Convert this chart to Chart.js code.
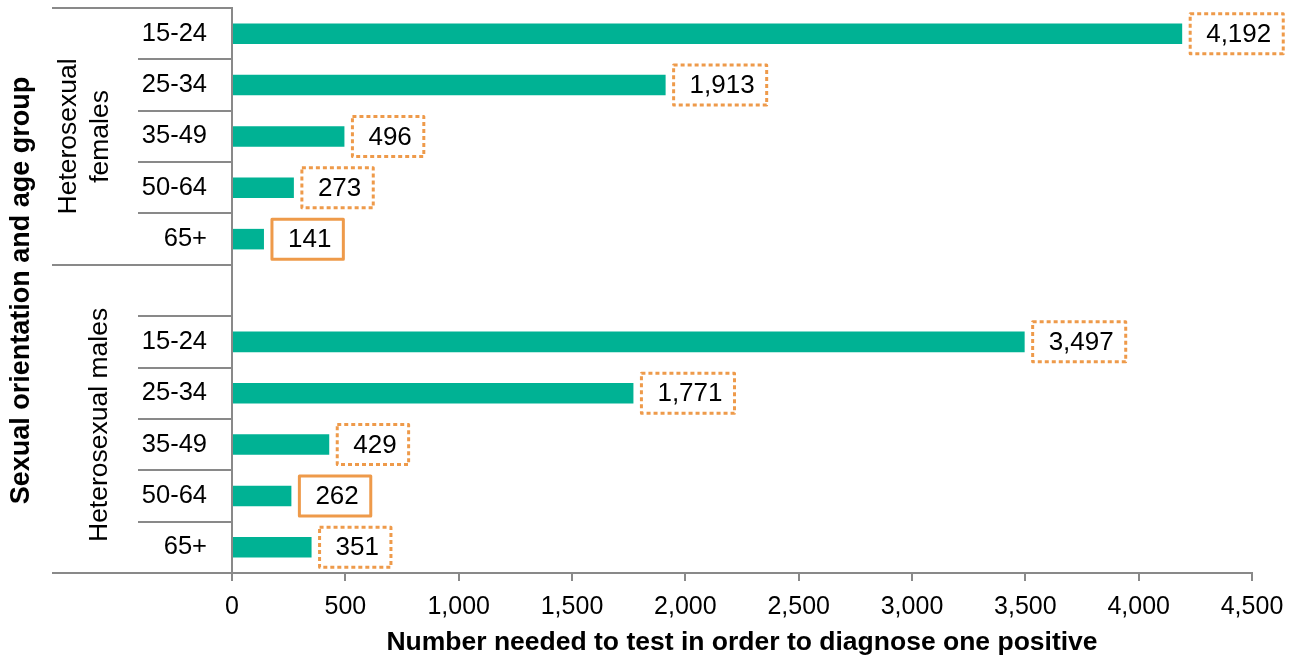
<!DOCTYPE html>
<html>
<head>
<meta charset="utf-8">
<script src="https://cdn.jsdelivr.net/npm/chart.js@4/dist/chart.umd.min.js"></script>
<style>
  html, body { margin: 0; padding: 0; background: #fff; }
  #wrap { width: 1298px; height: 661px; position: relative; }
</style>
</head>
<body>
<div id="wrap"><canvas id="chart"></canvas></div>
<script>
// ── Data ─────────────────────────────────────────────
const ageGroups = ['15-24', '25-34', '35-49', '50-64', '65+'];
const groupNames = [['Heterosexual', 'females'], ['Heterosexual males']];
const femaleValues = [4192, 1913, 496, 273, 141];
const maleValues = [3497, 1771, 429, 262, 351];
// boxes drawn with a solid outline (rest are dotted)
const solidLabels = [141, 262];
const xTicks = [0, 500, 1000, 1500, 2000, 2500, 3000, 3500, 4000, 4500];

const labels = [...ageGroups, '', ...ageGroups];
const values = [...femaleValues, null, ...maleValues];

const FONT = '"Liberation Sans", Arial, sans-serif';
const GREY = '#898989';
const TEAL = '#00B294';
const ORANGE = '#EE9A4A';

// ── Row separators, group labels, value boxes ─────────
const decorPlugin = {
  id: 'decor',
  afterDraw(chart) {
    const { ctx, chartArea, scales: { y } } = chart;
    const half = (y.getPixelForValue(1) - y.getPixelForValue(0)) / 2;
    const edge = i => y.getPixelForValue(i) - half;

    ctx.save();
    ctx.strokeStyle = GREY;
    ctx.lineWidth = 2;
    for (let i = 0; i <= labels.length; i++) {
      const yy = Math.round(edge(i));
      const x0 = (i === 0 || i === 5 || i === labels.length) ? 52 : 138;
      ctx.beginPath();
      ctx.moveTo(x0, yy);
      ctx.lineTo(chartArea.left, yy);
      ctx.stroke();
    }

    // group labels (rotated)
    ctx.fillStyle = '#000';
    ctx.font = '26.5px ' + FONT;
    ctx.textAlign = 'center';
    ctx.textBaseline = 'middle';
    const groups = [
      { lines: groupNames[0], x: 85, yc: (edge(0) + edge(5)) / 2 },
      { lines: groupNames[1], x: 100, yc: (edge(5) + edge(11)) / 2 + 6 },
    ];
    groups.forEach(g => {
      ctx.save();
      ctx.translate(g.x, g.yc);
      ctx.rotate(-Math.PI / 2);
      const lh = 32;
      g.lines.forEach((t, k) => {
        ctx.fillText(t, 0, (k - (g.lines.length - 1) / 2) * lh);
      });
      ctx.restore();
    });

    // value boxes
    ctx.font = '26px ' + FONT;
    const meta = chart.getDatasetMeta(0);
    meta.data.forEach((bar, i) => {
      const v = values[i];
      if (v == null) return;
      const text = v.toLocaleString('en-US');
      const tw = ctx.measureText(text).width;
      const w = tw + 28;
      const h = 40;
      const bx = bar.x + 8;
      const by = bar.y - h / 2;
      ctx.save();
      ctx.strokeStyle = ORANGE;
      ctx.lineWidth = 3;
      ctx.lineJoin = 'round';
      if (solidLabels.includes(v)) {
        ctx.setLineDash([]);
      } else {
        ctx.setLineDash([4, 3]);
      }
      ctx.strokeRect(bx, by, w, h);
      ctx.restore();
      ctx.fillStyle = '#000';
      ctx.textAlign = 'center';
      ctx.fillText(text, bx + w / 2 + 2, bar.y + 1);
    });
    ctx.restore();
  }
};

new Chart(document.getElementById('chart'), {
  type: 'bar',
  data: {
    labels,
    datasets: [{
      data: values,
      backgroundColor: TEAL,
      borderWidth: 0,
      categoryPercentage: 1,
      barPercentage: 0.4,
    }],
  },
  options: {
    indexAxis: 'y',
    responsive: true,
    maintainAspectRatio: false,
    animation: false,
    layout: { padding: { top: 8, right: 46, left: 0, bottom: 0 } },
    plugins: { legend: { display: false }, tooltip: { enabled: false } },
    scales: {
      x: {
        min: 0,
        max: 4500,
        afterBuildTicks: s => { s.ticks = xTicks.map(v => ({ value: v })); },
        afterFit: s => { s.height = 88; s.paddingLeft = 0; s.paddingRight = 0; },
        grid: { drawOnChartArea: false, drawTicks: true, tickLength: 8, color: GREY, lineWidth: 2 },
        border: { display: true, color: GREY, width: 2 },
        ticks: {
          color: '#000',
          font: { family: FONT, size: 25 },
          padding: 11,
          maxRotation: 0,
          callback: v => Number(v).toLocaleString('en-US'),
        },
        title: {
          display: true,
          text: 'Number needed to test in order to diagnose one positive',
          color: '#000',
          font: { family: FONT, size: 26.5, weight: 'bold' },
          padding: { top: 0, bottom: 2 },
        },
      },
      y: {
        afterFit: s => { s.width = 232; s.paddingTop = 0; s.paddingBottom = 0; },
        grid: { display: false, drawTicks: false },
        border: { display: true, color: GREY, width: 2 },
        ticks: {
          color: '#000',
          font: { family: FONT, size: 25.5 },
          padding: 25,
          autoSkip: false,
        },
        title: {
          display: true,
          text: 'Sexual orientation and age group',
          color: '#000',
          font: { family: FONT, size: 27, weight: 'bold' },
          padding: { top: 5, bottom: 0 },
        },
      },
    },
  },
  plugins: [decorPlugin],
});
</script>
</body>
</html>
